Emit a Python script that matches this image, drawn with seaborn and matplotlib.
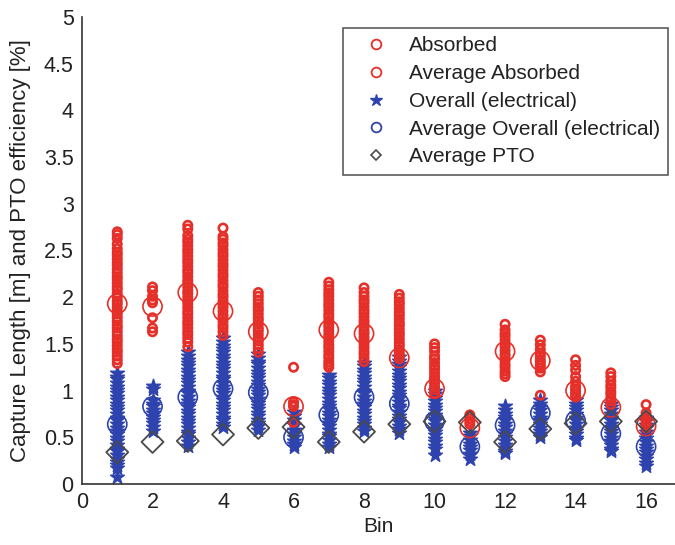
import numpy as np
import pandas as pd
import matplotlib
matplotlib.use("Agg")
import matplotlib.pyplot as plt
from matplotlib.lines import Line2D
import seaborn as sns

# ---------------- data ----------------
bins = list(range(1, 17))

absorbed_b1 = [2.70,2.67,2.63,2.57,2.52,2.48,2.45,2.41,2.37,2.34,2.30,2.26,2.22,2.19,2.15,2.11,2.08,2.04,2.00,1.96,1.93,1.89,1.85,1.82,1.78,1.74,1.70,1.67,1.63,1.59,1.55,1.52,1.48,1.44,1.41,1.37,1.33,1.29]
absorbed_b2 = [2.11,2.07,2.01,1.97,1.94,1.78,1.67,1.63]
absorbed_b3 = [2.77,2.73,2.66,2.62,2.59,2.55,2.51,2.48,2.44,2.40,2.37,2.33,2.29,2.26,2.22,2.18,2.15,2.11,2.07,2.04,2.00,1.96,1.93,1.89,1.85,1.82,1.78,1.74,1.71,1.67,1.63,1.60,1.56,1.52,1.47]
absorbed_b4 = [2.74,2.65,2.62,2.58,2.55,2.51,2.47,2.44,2.40,2.36,2.33,2.29,2.25,2.22,2.18,2.14,2.11,2.07,2.03,2.00,1.96,1.92,1.89,1.85,1.81,1.78,1.74,1.70,1.67,1.63,1.59]
absorbed_b5 = [2.05,2.01,1.97,1.93,1.89,1.86,1.82,1.78,1.75,1.71,1.67,1.64,1.60,1.56,1.53,1.49,1.45,1.41]
absorbed_b6 = [1.25,0.88,0.85,0.83,0.66]
absorbed_b7 = [2.16,2.12,2.08,2.04,2.01,1.97,1.93,1.90,1.86,1.82,1.79,1.75,1.71,1.68,1.64,1.60,1.57,1.53,1.49,1.46,1.42,1.38,1.35,1.31,1.28,1.25]
absorbed_b8 = [2.10,2.05,2.01,1.97,1.94,1.90,1.86,1.83,1.79,1.75,1.72,1.68,1.64,1.61,1.57,1.53,1.50,1.46,1.42,1.39,1.35,1.31]
absorbed_b9 = [2.03,1.99,1.95,1.92,1.88,1.84,1.81,1.77,1.73,1.70,1.66,1.62,1.59,1.55,1.51,1.48,1.44,1.40,1.37,1.34]
absorbed_b10 = [1.50,1.46,1.42,1.37,1.34,1.30,1.26,1.23,1.19,1.15,1.12,1.08,1.04,1.01,0.97]
absorbed_b11 = [0.74,0.70,0.67,0.64]
absorbed_b12 = [1.71,1.65,1.61,1.58,1.54,1.50,1.47,1.43,1.39,1.36,1.32,1.28,1.25,1.21,1.18,1.15]
absorbed_b13 = [1.54,1.49,1.44,1.40,1.37,1.33,1.30,1.27,1.24,1.20,0.95]
absorbed_b14 = [1.33,1.27,1.22,1.15,1.10,1.05,1.02,0.99,0.96,0.93]
absorbed_b15 = [1.19,1.15,1.10,1.06,1.03,0.99,0.96,0.92,0.89,0.85]
absorbed_b16 = [0.85,0.76,0.72,0.69,0.66,0.63,0.60]

overall_b1 = [1.19,1.15,1.12,1.08,1.04,1.01,0.97,0.93,0.90,0.86,0.82,0.79,0.75,0.71,0.68,0.64,0.60,0.57,0.53,0.49,0.46,0.42,0.38,0.35,0.31,0.27,0.24,0.20,0.17,0.07]
overall_b2 = [1.05,1.02,0.90,0.86,0.83,0.79,0.76,0.72,0.68,0.65,0.61,0.57]
overall_b3 = [1.41,1.37,1.33,1.30,1.26,1.22,1.19,1.15,1.11,1.08,1.04,1.00,0.97,0.93,0.89,0.86,0.82,0.78,0.75,0.71,0.67,0.64,0.60,0.56,0.53,0.49,0.45,0.41]
overall_b4 = [1.56,1.52,1.48,1.45,1.41,1.37,1.34,1.30,1.26,1.23,1.19,1.15,1.12,1.08,1.04,1.01,0.97,0.93,0.90,0.86,0.82,0.79,0.75,0.71,0.68,0.64,0.61]
overall_b5 = [1.39,1.35,1.31,1.28,1.24,1.20,1.17,1.13,1.09,1.06,1.02,0.98,0.95,0.91,0.87,0.84,0.80,0.76,0.73,0.69,0.65,0.62,0.58]
overall_b6 = [0.77,0.73,0.68,0.63,0.58,0.54,0.50,0.46,0.43,0.40]
overall_b7 = [1.17,1.13,1.09,1.06,1.02,0.98,0.95,0.91,0.87,0.84,0.80,0.76,0.73,0.69,0.65,0.62,0.58,0.54,0.51,0.47,0.43,0.40]
overall_b8 = [1.30,1.26,1.22,1.19,1.15,1.11,1.08,1.04,1.00,0.97,0.93,0.89,0.86,0.82,0.78,0.75,0.71,0.67,0.64,0.60,0.57]
overall_b9 = [1.36,1.32,1.28,1.25,1.21,1.17,1.14,1.10,1.06,1.03,0.99,0.95,0.92,0.88,0.84,0.81,0.77,0.73,0.70,0.66,0.62,0.59,0.55]
overall_b10 = [1.00,0.96,0.92,0.89,0.85,0.81,0.78,0.74,0.70,0.67,0.63,0.59,0.56,0.52,0.48,0.45,0.41,0.37,0.31]
overall_b11 = [0.55,0.51,0.47,0.43,0.40,0.36,0.32,0.27]
overall_b12 = [0.83,0.79,0.75,0.72,0.68,0.64,0.61,0.57,0.53,0.50,0.46,0.42,0.39,0.35,0.33]
overall_b13 = [0.90,0.86,0.82,0.79,0.75,0.71,0.68,0.64,0.60,0.57,0.53,0.50]
overall_b14 = [0.90,0.86,0.82,0.79,0.75,0.71,0.68,0.64,0.60,0.57,0.53,0.49,0.47]
overall_b15 = [0.86,0.82,0.79,0.75,0.71,0.68,0.64,0.60,0.57,0.53,0.49,0.46,0.42,0.38,0.35]
overall_b16 = [0.71,0.67,0.63,0.60,0.56,0.52,0.49,0.45,0.41,0.38,0.34,0.30,0.27,0.23,0.19]

avg_absorbed = [1.93,1.90,2.05,1.85,1.63,0.83,1.65,1.61,1.35,1.02,0.60,1.42,1.32,1.00,0.82,0.62]
avg_overall = [0.64,0.83,0.93,1.02,0.98,0.50,0.74,0.93,0.86,0.67,0.40,0.63,0.76,0.68,0.54,0.40]
avg_pto = [0.34,0.45,0.46,0.53,0.60,0.61,0.45,0.56,0.64,0.67,0.66,0.45,0.59,0.65,0.67,0.67]

labels = ["Absorbed", "Average Absorbed", "Overall (electrical)",
          "Average Overall (electrical)", "Average PTO"]

# ---------------- tables ----------------
absorbed_lists = [absorbed_b1, absorbed_b2, absorbed_b3, absorbed_b4, absorbed_b5, absorbed_b6,
                  absorbed_b7, absorbed_b8, absorbed_b9, absorbed_b10, absorbed_b11, absorbed_b12,
                  absorbed_b13, absorbed_b14, absorbed_b15, absorbed_b16]
overall_lists = [overall_b1, overall_b2, overall_b3, overall_b4, overall_b5, overall_b6,
                 overall_b7, overall_b8, overall_b9, overall_b10, overall_b11, overall_b12,
                 overall_b13, overall_b14, overall_b15, overall_b16]

df_abs = pd.DataFrame([(b, v) for b, vals in zip(bins, absorbed_lists) for v in vals],
                      columns=["Bin", "value"])
df_ovr = pd.DataFrame([(b, v) for b, vals in zip(bins, overall_lists) for v in vals],
                      columns=["Bin", "value"])
df_avg = pd.DataFrame({"Bin": bins, "abs": avg_absorbed, "ovr": avg_overall, "pto": avg_pto})

# ---------------- style ----------------
sns.set_theme(style="white")
plt.rcParams["font.family"] = ["Liberation Sans", "DejaVu Sans"]
RED = "#e62f28"
BLUE = "#2e43ad"
GRAY = "#4a4a4a"
TXT = "#222222"

fig = plt.figure(figsize=(6.75, 5.45), dpi=100)
ax = fig.add_axes([82/675, 61/545, (675-82)/675, (484-17)/545])

sns.scatterplot(data=df_ovr, x="Bin", y="value", marker="*", s=110, color=BLUE,
                edgecolor=BLUE, linewidth=1.0, ax=ax, zorder=2)
sns.scatterplot(data=df_avg, x="Bin", y="ovr", marker="o", s=190, facecolor="none",
                edgecolor=BLUE, linewidth=1.2, ax=ax, zorder=3)
sns.scatterplot(data=df_abs, x="Bin", y="value", marker="o", s=36, facecolor="none",
                edgecolor=RED, linewidth=1.9, ax=ax, zorder=4)
sns.scatterplot(data=df_avg, x="Bin", y="abs", marker="o", s=190, facecolor="none",
                edgecolor=RED, linewidth=1.2, ax=ax, zorder=5)
sns.scatterplot(data=df_avg, x="Bin", y="pto", marker="D", s=125, facecolor="none",
                edgecolor=GRAY, linewidth=1.3, ax=ax, zorder=6)

ax.set_xlim(0, 16.82)
ax.set_ylim(0, 5)
ax.set_xticks(range(0, 17, 2))
ax.set_yticks(np.arange(0, 5.01, 0.5))
ax.set_yticklabels(["0", "0.5", "1", "1.5", "2", "2.5", "3", "3.5", "4", "4.5", "5"])
ax.tick_params(direction="in", length=5, width=1, colors="#333333", labelsize=15.5,
               labelcolor=TXT, pad=6)
for s in ["top", "right"]:
    ax.spines[s].set_visible(False)
for s in ["left", "bottom"]:
    ax.spines[s].set_color("#333333")
    ax.spines[s].set_linewidth(1.2)
ax.set_xlabel("Bin", fontsize=15, color=TXT, labelpad=3)
ax.set_ylabel("Capture Length [m] and PTO efficiency [%]", fontsize=16, color=TXT, labelpad=9)

handles = [
    Line2D([], [], ls="none", marker="o", ms=7, mfc="none", mec=RED, mew=1.3),
    Line2D([], [], ls="none", marker="o", ms=7, mfc="none", mec=RED, mew=1.3),
    Line2D([], [], ls="none", marker="*", ms=9, color=BLUE),
    Line2D([], [], ls="none", marker="o", ms=7, mfc="none", mec=BLUE, mew=1.3),
    Line2D([], [], ls="none", marker="D", ms=5.5, mfc="none", mec=GRAY, mew=1.2),
]
leg = ax.legend(handles, labels, loc="upper left", bbox_to_anchor=(343/675, 1 - 28/545),
                bbox_transform=fig.transFigure, fontsize=15, frameon=True, fancybox=False,
                edgecolor="#333333", labelspacing=0.42, handletextpad=0.35, borderpad=0.4,
                handlelength=2.4, borderaxespad=0)
leg.get_frame().set_linewidth(1.2)
for t in leg.get_texts():
    t.set_color(TXT)

fig.savefig("out.png", dpi=100)
